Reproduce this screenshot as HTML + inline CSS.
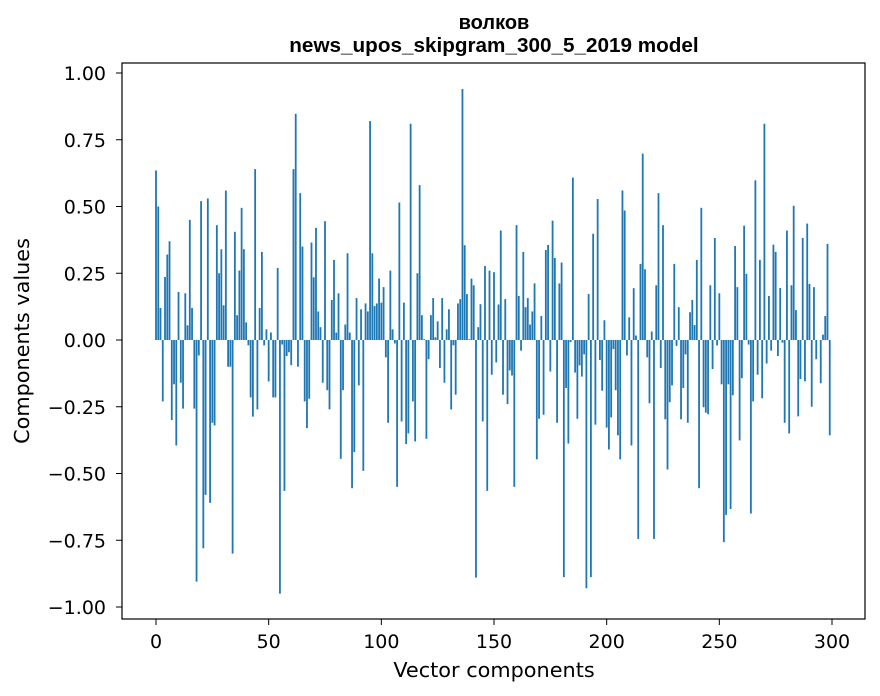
<!DOCTYPE html>
<html><head><meta charset="utf-8"><style>
body{margin:0;background:#fff;}
svg{display:block;font-family:"DejaVu Sans","Liberation Sans",sans-serif;}
</style></head><body>
<svg id="chart" width="880" height="696" viewBox="0 0 880 696">
<rect width="880" height="696" fill="#fff"/>
<text x="494" y="29" text-anchor="middle" font-size="20" font-weight="bold" font-family="Liberation Sans, sans-serif">волков</text>
<text x="494" y="52" text-anchor="middle" font-size="20.7" font-weight="bold" font-family="Liberation Sans, sans-serif">news_upos_skipgram_300_5_2019 model</text>
<g id="bars"></g>
<g id="xticks"></g>
<g id="yticks"></g>
<rect x="122" y="63" width="743" height="556" fill="none" stroke="#000" stroke-width="1.2"/>
<text x="494" y="677" text-anchor="middle" font-size="20.8">Vector components</text>
<text transform="translate(29,341) rotate(-90)" text-anchor="middle" font-size="20.8">Components values</text>
</svg>
<script>
const values = [0.635,0.50,0.12,-0.23,0.236,0.32,0.37,-0.30,-0.166,-0.395,0.18,-0.16,-0.257,0.175,0.055,0.45,0.12,-0.257,-0.905,-0.058,0.52,-0.78,-0.58,0.53,-0.61,-0.31,-0.32,0.43,0.25,0.34,0.13,0.56,-0.10,-0.10,-0.80,0.405,0.093,0.26,0.495,0.34,0.066,-0.02,-0.215,-0.287,0.64,-0.26,0.12,0.33,-0.02,
0.04,-0.155,0.028,-0.215,-0.215,0.27,-0.95,-0.017,-0.565,-0.06,-0.046,-0.094,0.64,0.847,-0.10,0.55,0.35,-0.23,-0.33,-0.22,0.365,0.235,0.42,0.107,0.048,-0.16,0.445,-0.188,-0.26,0.15,0.30,0.028,0.175,-0.445,-0.188,0.058,0.325,0.028,-0.555,-0.42,0.157,-0.17,0.115,-0.49,0.137,0.107,0.82,0.325,0.127,
0.137,0.23,0.14,0.198,-0.065,-0.31,0.26,0.04,-0.013,-0.55,0.515,-0.305,0.14,-0.39,-0.35,0.81,-0.23,-0.38,0.25,0.58,0.093,0.003,-0.37,-0.072,0.093,0.157,0.01,0.07,-0.105,0.157,-0.16,0.04,0.115,-0.26,-0.02,-0.205,0.137,0.153,0.94,0.355,0.172,0.003,0.23,0.205,-0.89,0.048,0.134,-0.305,0.277,-0.565,
0.26,-0.13,0.254,-0.084,0.133,0.41,-0.205,0.153,-0.24,-0.114,-0.133,-0.55,0.43,0.165,-0.04,0.33,0.123,0.157,0.058,0.107,0.212,-0.447,-0.295,0.09,-0.28,0.337,0.356,-0.118,0.447,0.307,-0.31,0.212,0.29,-0.888,-0.18,-0.388,-0.008,0.608,-0.122,-0.295,-0.095,-0.137,-0.054,-0.93,0.172,-0.888,0.398,-0.317,0.528,-0.075,
-0.19,0.074,-0.328,-0.41,-0.29,-0.034,-0.188,-0.357,-0.447,0.56,0.485,-0.058,0.085,-0.395,0.194,0.017,-0.745,0.285,0.698,0.265,-0.065,-0.237,0.032,-0.745,0.205,0.55,-0.105,0.43,-0.297,-0.485,-0.233,-0.17,0.285,-0.022,0.123,-0.297,-0.18,-0.054,-0.31,0.104,0.15,0.056,0.30,-0.555,0.495,-0.252,-0.272,-0.278,0.205,
-0.109,0.382,-0.02,0.175,-0.166,-0.757,-0.655,-0.166,-0.633,-0.207,0.352,0.198,-0.376,-0.143,0.428,0.248,-0.017,-0.65,-0.23,0.598,-0.13,0.30,-0.218,0.81,-0.088,0.165,-0.04,0.357,0.33,-0.06,0.195,-0.01,-0.31,0.41,-0.35,0.205,0.503,0.112,-0.286,-0.146,0.382,-0.155,0.436,0.21,-0.25,0.198,-0.072,0.0,-0.162,0.02,0.09,0.36,-0.357];
const xTicks = [0,50,100,150,200,250,300];
const yTicks = [1.00,0.75,0.50,0.25,0.00,-0.25,-0.50,-0.75,-1.00];
const NS='http://www.w3.org/2000/svg';
function xs(v){return 156 + v*(676/300);}
function ys(v){return 340 - v*267;}
const bars=document.getElementById('bars');
values.forEach((v,i)=>{
  const r=document.createElementNS(NS,'rect');
  const w=0.8*(676/300);
  r.setAttribute('x',xs(i)-w/2);
  r.setAttribute('y',Math.min(ys(v),ys(0)));
  r.setAttribute('width',w);
  r.setAttribute('height',Math.abs(ys(v)-ys(0)));
  r.setAttribute('fill','#1f77b4');
  
  
  bars.appendChild(r);
});
const xg=document.getElementById('xticks');
xTicks.forEach(t=>{
  const l=document.createElementNS(NS,'line');
  l.setAttribute('x1',xs(t));l.setAttribute('x2',xs(t));
  l.setAttribute('y1',619);l.setAttribute('y2',625);
  l.setAttribute('stroke','#000');
  
  
  xg.appendChild(l);
  const tx=document.createElementNS(NS,'text');
  tx.setAttribute('x',xs(t));tx.setAttribute('y',648);
  tx.setAttribute('text-anchor','middle');tx.setAttribute('font-size','19');
  tx.textContent=String(t);
  
  
  xg.appendChild(tx);
});
const yg=document.getElementById('yticks');
yTicks.forEach(t=>{
  const l=document.createElementNS(NS,'line');
  l.setAttribute('x1',116);l.setAttribute('x2',122);
  l.setAttribute('y1',ys(t));l.setAttribute('y2',ys(t));
  l.setAttribute('stroke','#000');
  
  
  yg.appendChild(l);
  const tx=document.createElementNS(NS,'text');
  tx.setAttribute('x',106);tx.setAttribute('y',ys(t)+7);
  tx.setAttribute('text-anchor','end');tx.setAttribute('font-size','19');
  tx.textContent=(t<0?'\u2212':'')+Math.abs(t).toFixed(2);
  
  
  yg.appendChild(tx);
});
</script>
</body></html>
